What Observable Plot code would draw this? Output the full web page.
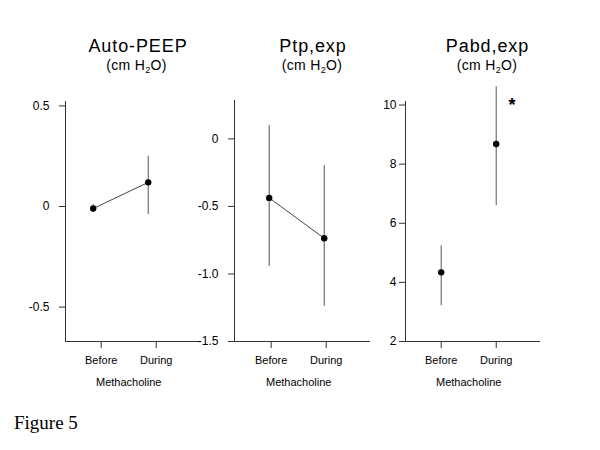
<!DOCTYPE html>
<html><head><meta charset="utf-8">
<script src="https://cdn.jsdelivr.net/npm/d3@7"></script>
<script src="https://cdn.jsdelivr.net/npm/@observablehq/plot@0.6"></script>
<style>
body{margin:0;background:#fff;}
#fig{position:relative;width:600px;height:450px;background:#fff;font-family:Arial,"Liberation Sans",sans-serif;overflow:hidden}
#fig svg{position:absolute;left:0;top:0}
.t{position:absolute;transform:translateX(-50%);white-space:nowrap;color:#000}
.title{font-size:18px;line-height:15px;letter-spacing:0.9px}
.unit{font-size:14px;line-height:12px;letter-spacing:0.3px}
.unit sub{font-size:9px;vertical-align:-3px;line-height:0}
#cap{position:absolute;left:14px;top:413px;font-family:"Times New Roman","Liberation Serif",serif;font-size:19px;line-height:19px}
</style></head>
<body>
<div id="fig">
  <div class="t title" style="left:138px;top:39.3px">Auto-PEEP</div>
  <div class="t unit" style="left:136.5px;top:58.6px">(cm H<sub>2</sub>O)</div>
  <div class="t title" style="left:313px;top:39.3px">Ptp,exp</div>
  <div class="t unit" style="left:312px;top:58.6px">(cm H<sub>2</sub>O)</div>
  <div class="t title" style="left:487.5px;top:39.3px">Pabd,exp</div>
  <div class="t unit" style="left:487px;top:58.6px">(cm H<sub>2</sub>O)</div>
  <div id="cap">Figure 5</div>
</div>
<script>
const categories = ["Before", "During"];
const xAxisLabel = "Methacholine";

// Auto-PEEP (cm H2O)
const autoPeepMean = [-0.01, 0.12];
const autoPeepLow  = [-0.03, -0.04];
const autoPeepHigh = [0.01, 0.25];
const autoPeepTicks = [-0.5, 0, 0.5];

// Ptp,exp (cm H2O)
const ptpMean = [-0.437, -0.736];
const ptpLow  = [-0.944, -1.24];
const ptpHigh = [0.099, -0.198];
const ptpTicks = [-1.5, -1, -0.5, 0];

// Pabd,exp (cm H2O)
const pabdMean = [4.34, 8.68];
const pabdLow  = [3.21, 6.6];
const pabdHigh = [5.24, 10.62];
const pabdTicks = [2, 4, 6, 8, 10];

const fmtDec = d => d === 0 ? "0" : d.toFixed(1);
const fmtInt = d => String(d);

function panel(o) {
  const rows = categories.map((c, i) => ({x: i + 1, cat: c, mean: o.mean[i], low: o.low[i], high: o.high[i]}));
  const midX = d3.mean(rows, d => d.x);
  const marks = [
    Plot.ruleX([o.xDomain[0]], {stroke: "#333", strokeWidth: 1}),
    Plot.ruleY([o.yDomain[0]], {stroke: "#333", strokeWidth: 1}),
    Plot.axisY({ticks: o.ticks, tickFormat: o.fmt, tickSize: 6, tickPadding: o.tickPadding, stroke: "#333", fill: "#000", fontSize: 12, label: null}),
    Plot.axisX({ticks: [1, 2], tickFormat: i => categories[i - 1], tickSize: 7, tickPadding: 8, stroke: "#333", fill: "#000", fontSize: 11, label: null}),
    Plot.text([xAxisLabel], {x: () => midX, frameAnchor: "bottom", lineAnchor: "top", dy: 37, fontSize: 11, fill: "#000"}),
    Plot.ruleX(rows, {x: "x", y1: "low", y2: "high", stroke: "#555", strokeWidth: 1, dx: o.dx})
  ];
  if (o.connect) marks.push(Plot.line(rows, {x: "x", y: "mean", stroke: "#444", strokeWidth: 1, dx: o.dx}));
  marks.push(Plot.dot(rows, {x: "x", y: "mean", r: 3.2, fill: "#000", stroke: "none", dx: o.dx}));
  if (o.star) marks.push(Plot.text([o.star], {frameAnchor: "top-right", lineAnchor: "top", dx: -25, dy: -3, fontSize: 18, fontWeight: "bold", fill: "#000"}));
  return Plot.plot({
    width: 600, height: 450,
    marginLeft: o.left, marginRight: 600 - o.right, marginTop: o.top, marginBottom: 450 - o.bottom,
    x: {type: "linear", domain: o.xDomain},
    y: {domain: o.yDomain},
    style: {background: "transparent", overflow: "visible", fontFamily: "Arial, 'Liberation Sans', sans-serif", fontSize: "12px", color: "#000"},
    marks
  });
}

const fig = document.getElementById("fig");
fig.appendChild(panel({mean: autoPeepMean, low: autoPeepLow, high: autoPeepHigh, ticks: autoPeepTicks, fmt: fmtDec,
  yDomain: [-0.671, 0.522], xDomain: [0.351, 2.805], left: 65, right: 200, top: 101, bottom: 341, dx: -8, connect: true, tickPadding: 10}));
fig.appendChild(panel({mean: ptpMean, low: ptpLow, high: ptpHigh, ticks: ptpTicks, fmt: fmtDec,
  yDomain: [-1.5, 0.284], xDomain: [0.333, 2.805], left: 234, right: 370, top: 100, bottom: 341, dx: -2, connect: true, tickPadding: 10}));
fig.appendChild(panel({mean: pabdMean, low: pabdLow, high: pabdHigh, ticks: pabdTicks, fmt: fmtInt,
  yDomain: [2, 10.12], xDomain: [0.351, 2.805], left: 405, right: 540, top: 101, bottom: 341, dx: 0, connect: false, tickPadding: 3, star: "*"}));
</script>
</body></html>
